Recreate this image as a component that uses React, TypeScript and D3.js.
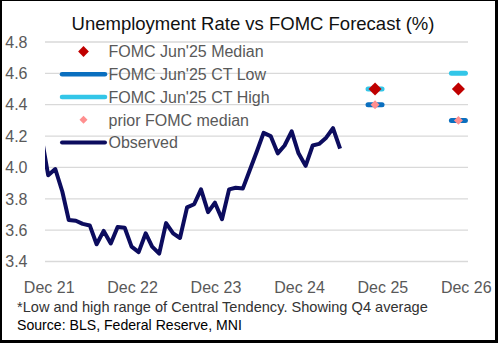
import React from "react";
import * as d3 from "d3";

const months = [
  "2021-11", "2021-12",
  "2022-01", "2022-02", "2022-03", "2022-04", "2022-05", "2022-06",
  "2022-07", "2022-08", "2022-09", "2022-10", "2022-11", "2022-12",
  "2023-01", "2023-02", "2023-03", "2023-04", "2023-05", "2023-06",
  "2023-07", "2023-08", "2023-09", "2023-10", "2023-11", "2023-12",
  "2024-01", "2024-02", "2024-03", "2024-04", "2024-05", "2024-06",
  "2024-07", "2024-08", "2024-09", "2024-10", "2024-11", "2024-12",
  "2025-01", "2025-02", "2025-03", "2025-04", "2025-05", "2025-06",
];
const observed = [
  4.2, 3.95,
  3.99, 3.845, 3.665, 3.66, 3.64, 3.63,
  3.51, 3.595, 3.515, 3.62, 3.615, 3.495,
  3.46, 3.58, 3.495, 3.45, 3.645, 3.58,
  3.55, 3.745, 3.765, 3.86, 3.715, 3.775,
  3.67, 3.86, 3.87, 3.865, 3.98, 4.1,
  4.22, 4.2, 4.09, 4.14, 4.23, 4.09,
  4.01, 4.14, 4.15, 4.19, 4.25, 4.12,
];

const fomcDates = ["2025-11", "2026-11"];
const fomcMedian = [4.5, 4.5];
const fomcLow = [4.4, 4.3];
const fomcHigh = [4.5, 4.6];
const priorMedian = [4.4, 4.3];

const yTicks = [3.4, 3.6, 3.8, 4.0, 4.2, 4.4, 4.6, 4.8];
const xTickMonths = ["2021-12", "2022-12", "2023-12", "2024-12", "2025-12", "2026-12"];
const xTickLabels = ["Dec 21", "Dec 22", "Dec 23", "Dec 24", "Dec 25", "Dec 26"];

const legendLabels = [
  "FOMC Jun'25 Median",
  "FOMC Jun'25 CT Low",
  "FOMC Jun'25 CT High",
  "prior FOMC median",
  "Observed",
];

const title = "Unemployment Rate vs FOMC Forecast (%)";
const footnote = "*Low and high range of Central Tendency. Showing Q4 average";
const source = "Source: BLS, Federal Reserve, MNI";

const C_NAVY = "#0c0c5e";
const C_RED = "#c00000";
const C_DARKBLUE = "#0a6fbf";
const C_LIGHTBLUE = "#33c6e8";
const C_PINK = "#ff8f8f";
const C_GRID = "#d9d9d9";
const C_LABEL = "#595959";

const FONT = "'Liberation Sans', Arial, sans-serif";

const parseMonth = d3.timeParse("%Y-%m");

export default function App() {
  const W = 498;
  const H = 343;
  const left = 45;
  const right = 468;
  const top = 42;
  const bottom = 261.5;

  const x = d3
    .scaleTime()
    .domain([new Date(2021, 10, 17), new Date(2026, 11, 13)])
    .range([left, right]);
  const y = d3.scaleLinear().domain([3.4, 4.8]).range([bottom, top]);

  const obsData = months.map((m, i) => ({ d: parseMonth(m) as Date, v: observed[i] }));
  const line = d3
    .line<{ d: Date; v: number }>()
    .x((p) => x(p.d))
    .y((p) => y(p.v));

  const diamond = (area: number) => d3.symbol().type(d3.symbolSquare).size(area)() as string;
  const dashHalf = 7;

  const legendX0 = 62;
  const legendX1 = 105;
  const legendSym = 83.5;
  const legendText = 108.5;
  const legendY0 = 51.5;
  const legendStep = 22.75;

  return (
    <svg
      width={W}
      height={H}
      style={{ position: "fixed", left: 0, top: 0 }}
      fontFamily={FONT}
    >
      <rect x={0} y={0} width={W} height={H} fill="#000" />
      <rect x={2} y={1} width={493} height={339} fill="#fff" />
      <defs>
        <clipPath id="plotClip">
          <rect x={left} y={0} width={right - left} height={H} />
        </clipPath>
      </defs>

      {/* gridlines */}
      {yTicks.map((t) => (
        <line
          key={t}
          x1={left}
          x2={right}
          y1={y(t)}
          y2={y(t)}
          stroke={C_GRID}
          strokeWidth={1.3}
        />
      ))}
      {/* y labels */}
      {yTicks.map((t) => (
        <text
          key={"yl" + t}
          x={27.5}
          y={y(t)}
          dy="0.36em"
          textAnchor="end"
          fontSize={16}
          fill={C_LABEL}
        >
          {d3.format(".1f")(t)}
        </text>
      ))}
      {/* x labels */}
      {xTickMonths.map((m, i) => (
        <text
          key={m}
          x={x(parseMonth(m) as Date) + 1}
          y={287.5}
          dy="0.36em"
          textAnchor="middle"
          fontSize={16}
          fill={C_LABEL}
        >
          {xTickLabels[i]}
        </text>
      ))}

      {/* observed */}
      <path
        d={line(obsData) || ""}
        fill="none"
        stroke={C_NAVY}
        strokeWidth={4}
        strokeLinejoin="round"
        clipPath="url(#plotClip)"
      />

      {/* FOMC forecasts */}
      {fomcDates.map((m, i) => {
        const cx = x(parseMonth(m) as Date);
        return (
          <g key={m}>
            <line
              x1={cx - dashHalf}
              x2={cx + dashHalf}
              y1={y(fomcHigh[i])}
              y2={y(fomcHigh[i])}
              stroke={C_LIGHTBLUE}
              strokeWidth={5}
              strokeLinecap="round"
            />
            <line
              x1={cx - dashHalf}
              x2={cx + dashHalf}
              y1={y(fomcLow[i])}
              y2={y(fomcLow[i])}
              stroke={C_DARKBLUE}
              strokeWidth={5}
              strokeLinecap="round"
            />
            <path
              d={diamond(85)}
              transform={`translate(${cx},${y(fomcMedian[i])}) rotate(45)`}
              fill={C_RED}
            />
            <path
              d={diamond(40)}
              transform={`translate(${cx},${y(priorMedian[i])}) rotate(45)`}
              fill={C_PINK}
            />
          </g>
        );
      })}

      {/* legend */}
      <g>
        <path
          d={diamond(58)}
          transform={`translate(${legendSym},${legendY0}) rotate(45)`}
          fill={C_RED}
        />
        <line
          x1={legendX0}
          x2={legendX1}
          y1={legendY0 + legendStep}
          y2={legendY0 + legendStep}
          stroke={C_DARKBLUE}
          strokeWidth={4.5}
          strokeLinecap="round"
        />
        <line
          x1={legendX0}
          x2={legendX1}
          y1={legendY0 + 2 * legendStep}
          y2={legendY0 + 2 * legendStep}
          stroke={C_LIGHTBLUE}
          strokeWidth={4.5}
          strokeLinecap="round"
        />
        <path
          d={diamond(32)}
          transform={`translate(${legendSym},${legendY0 + 3 * legendStep}) rotate(45)`}
          fill={C_PINK}
        />
        <line
          x1={legendX0}
          x2={legendX1}
          y1={legendY0 + 4 * legendStep}
          y2={legendY0 + 4 * legendStep}
          stroke={C_NAVY}
          strokeWidth={4}
          strokeLinecap="round"
        />
        {legendLabels.map((l, i) => (
          <text
            key={l}
            x={legendText}
            y={legendY0 + i * legendStep}
            dy="0.36em"
            fontSize={16}
            fill={C_LABEL}
          >
            {l}
          </text>
        ))}
      </g>

      {/* title */}
      <text x={253} y={29.5} textAnchor="middle" fontSize={18.5} fill="#111">
        {title}
      </text>
      {/* footnotes */}
      <text x={17} y={311.5} fontSize={14.6} fill="#333">
        {footnote}
      </text>
      <text x={17} y={330} fontSize={14.1} fill="#000">
        {source}
      </text>
    </svg>
  );
}
